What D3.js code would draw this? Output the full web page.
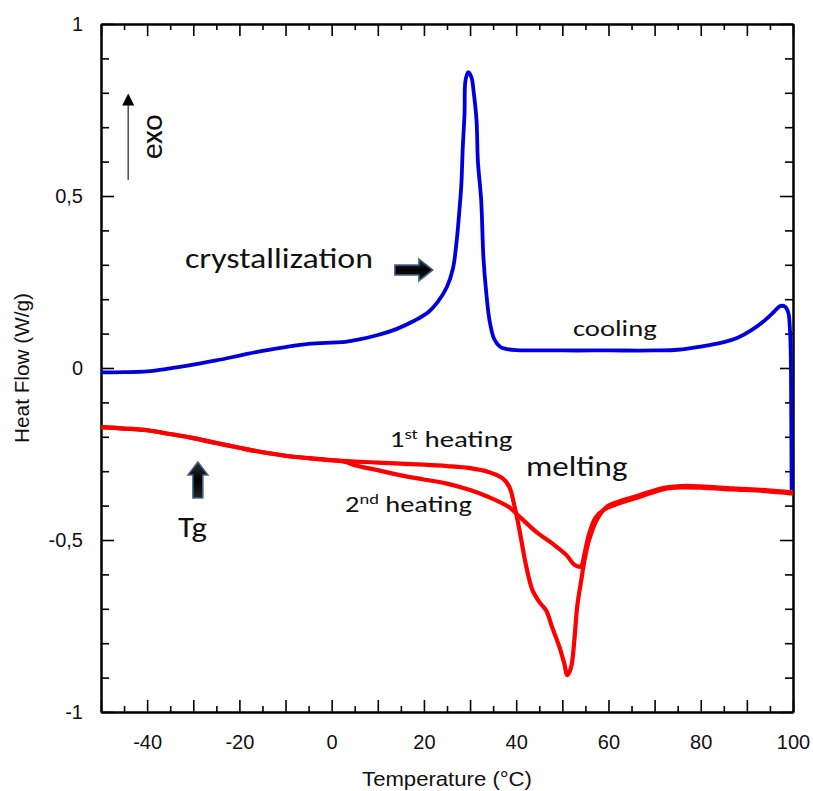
<!DOCTYPE html>
<html lang="en">
<head>
  <meta charset="UTF-8">
  <title>DSC curves</title>
  <script src="https://cdn.jsdelivr.net/npm/d3@7"></script>
  <style>
    body { margin: 0; background: #fff; }
    text { fill: #111; }
  </style>
</head>
<body>
<svg></svg>
<script>
  // cooling run (blue), temperature in °C / heat flow in W/g
  const coolT  = [-50, -45, -40, -35, -30, -25, -20, -15, -10, -5, 0, 3, 6, 10, 14, 18, 21, 23, 25, 26.3, 27.1, 27.7, 28.1, 28.4, 28.8, 29.0, 29.6, 30.3, 30.8, 31.4, 31.7, 32.4, 32.9, 33.5, 34.2, 35.2, 36.5, 38, 40, 50, 60, 70, 75, 80, 85, 88, 91, 94, 96, 97.2, 98.3, 99, 99.3, 99.5, 99.6, 99.7]
  const coolHF = [-0.013, -0.012, -0.010, -0.001, 0.010, 0.022, 0.036, 0.050, 0.061, 0.070, 0.074, 0.076, 0.083, 0.096, 0.113, 0.138, 0.163, 0.192, 0.236, 0.29, 0.37, 0.46, 0.53, 0.635, 0.74, 0.835, 0.86, 0.845, 0.80, 0.72, 0.60, 0.49, 0.32, 0.22, 0.14, 0.085, 0.062, 0.055, 0.052, 0.051, 0.051, 0.051, 0.053, 0.062, 0.075, 0.088, 0.11, 0.14, 0.165, 0.18, 0.178, 0.16, 0.12, 0.05, -0.1, -0.355]

  // 1st heating (red)
  const heat1T  = [-50, -45, -40, -35, -30, -25, -20, -15, -10, -5, 0, 5, 10, 15, 20, 25, 30, 34, 37, 38.5, 39.6, 40.3, 41.1, 42.2, 43.5, 45, 46.5, 47.8, 49.4, 50.4, 51.1, 51.9, 52.6, 53.2, 54.1, 54.8, 55.8, 57.4, 59.5, 62.3, 66.7, 72, 76, 80, 87, 94, 100]
  const heat1HF = [-0.172, -0.176, -0.181, -0.192, -0.204, -0.218, -0.232, -0.245, -0.255, -0.262, -0.268, -0.272, -0.275, -0.278, -0.281, -0.285, -0.291, -0.302, -0.32, -0.345, -0.40, -0.443, -0.50, -0.578, -0.645, -0.68, -0.705, -0.754, -0.812, -0.858, -0.893, -0.87, -0.792, -0.696, -0.617, -0.559, -0.50, -0.443, -0.405, -0.388, -0.37, -0.348, -0.343, -0.344, -0.35, -0.355, -0.362]

  // 2nd heating (red)
  const heat2T  = [-50, -45, -40, -35, -30, -25, -20, -15, -10, -5, 0, 3, 5, 10, 15, 20, 25, 30, 34, 38.5, 40.7, 44.4, 47.8, 50.9, 52.6, 54, 54.8, 55.8, 57.2, 59, 62, 66.7, 72, 76, 80, 87, 94, 100]
  const heat2HF = [-0.172, -0.176, -0.181, -0.192, -0.204, -0.218, -0.232, -0.245, -0.255, -0.262, -0.268, -0.273, -0.283, -0.297, -0.312, -0.324, -0.336, -0.355, -0.375, -0.405, -0.432, -0.477, -0.51, -0.544, -0.572, -0.577, -0.54, -0.482, -0.435, -0.412, -0.395, -0.375, -0.352, -0.347, -0.348, -0.353, -0.358, -0.365]

  const xLabels = [-40, -20, 0, 20, 40, 60, 80, 100]
  const yLabels = ['-1', '-0,5', '0', '0,5', '1']

  const width = 813, height = 791
  const plotLeft = 101, plotRight = 793, plotTop = 24, plotBottom = 712

  const svg = d3.select('svg')
      .attr('width', width)
      .attr('height', height)
      .attr('viewBox', [0, 0, width, height])

  const x = d3.scaleLinear().domain([-50, 100]).range([plotLeft, plotRight])
  const y = d3.scaleLinear().domain([-1, 1]).range([plotBottom, plotTop])

  const xMajor = d3.range(-50, 101, 10)
  const xMinor = d3.range(-45, 100, 10)
  const yMajor = yLabels.map(s => +s.replace(',', '.'))
  const yMinor = d3.range(-0.9, 1, 0.1).filter(v => Math.abs(v * 2 - Math.round(v * 2)) > 1e-6)

  const labelFont = '"Liberation Sans", Arial, sans-serif'
  const noteFont = 'Carlito, Calibri, Lato, sans-serif'

  // the original is a little stretched sideways; squeeze/stretch text to its width
  function fitWidth(sel, target, before) {
    const w = sel.node().getBBox().width
    const sx = target / w
    sel.attr('transform', `${before} scale(${sx},1)`)
  }

  function styleAxis(g) {
    g.select('.domain').attr('stroke', '#000').attr('stroke-width', 2)
    g.selectAll('.tick line').attr('stroke', '#000').attr('stroke-width', 1.6)
    g.selectAll('.tick text').attr('font-family', labelFont).attr('font-size', 20).attr('fill', '#111')
  }

  // bottom axis, ticks pointing inward
  svg.append('g')
      .attr('transform', `translate(0,${plotBottom})`)
      .call(d3.axisBottom(x).tickValues(xMinor).tickSize(-6).tickSizeOuter(0).tickFormat(''))
      .call(styleAxis)
  svg.append('g')
      .attr('transform', `translate(0,${plotBottom})`)
      .call(d3.axisBottom(x).tickValues(xMajor).tickSize(-12).tickSizeOuter(0).tickPadding(23)
          .tickFormat(d => xLabels.includes(d) ? d : ''))
      .call(styleAxis)

  // top axis
  svg.append('g')
      .attr('transform', `translate(0,${plotTop})`)
      .call(d3.axisTop(x).tickValues(xMinor).tickSize(-6).tickSizeOuter(0).tickFormat(''))
      .call(styleAxis)
  svg.append('g')
      .attr('transform', `translate(0,${plotTop})`)
      .call(d3.axisTop(x).tickValues(xMajor).tickSize(-12).tickSizeOuter(0).tickFormat(''))
      .call(styleAxis)

  // left axis
  svg.append('g')
      .attr('transform', `translate(${plotLeft},0)`)
      .call(d3.axisLeft(y).tickValues(yMinor).tickSize(-8).tickSizeOuter(0).tickFormat(''))
      .call(styleAxis)
  svg.append('g')
      .attr('transform', `translate(${plotLeft},0)`)
      .call(d3.axisLeft(y).tickValues(yMajor).tickSize(-13).tickSizeOuter(0).tickPadding(18)
          .tickFormat((d, i) => yLabels[i]))
      .call(styleAxis)

  // right axis
  svg.append('g')
      .attr('transform', `translate(${plotRight},0)`)
      .call(d3.axisRight(y).tickValues(yMinor).tickSize(-8).tickSizeOuter(0).tickFormat(''))
      .call(styleAxis)
  svg.append('g')
      .attr('transform', `translate(${plotRight},0)`)
      .call(d3.axisRight(y).tickValues(yMajor).tickSize(-13).tickSizeOuter(0).tickFormat(''))
      .call(styleAxis)

  // axis titles
  const xTitle = svg.append('text')
      .attr('text-anchor', 'middle')
      .attr('font-family', labelFont)
      .attr('font-size', 20)
      .text('Temperature (°C)')
  fitWidth(xTitle, 170, `translate(447,786)`)

  const yTitle = svg.append('text')
      .attr('text-anchor', 'middle')
      .attr('font-family', labelFont)
      .attr('font-size', 20)
      .text('Heat Flow (W/g)')
  fitWidth(yTitle, 150, `translate(29,${y(0)}) rotate(-90)`)

  // curves
  const line = d3.line()
      .x(d => x(d[0]))
      .y(d => y(d[1]))
      .curve(d3.curveCatmullRom.alpha(0.5))

  const heat1 = d3.zip(heat1T, heat1HF)
  const heat2 = d3.zip(heat2T, heat2HF)
  const cool = d3.zip(coolT, coolHF)

  svg.append('path')
      .attr('fill', 'none')
      .attr('stroke', '#ff0000')
      .attr('stroke-width', 4.2)
      .attr('stroke-linejoin', 'round')
      .attr('d', line(heat2))

  svg.append('path')
      .attr('fill', 'none')
      .attr('stroke', '#ff0000')
      .attr('stroke-width', 4.2)
      .attr('stroke-linejoin', 'round')
      .attr('d', line(heat1))

  svg.append('path')
      .attr('fill', 'none')
      .attr('stroke', '#0000dd')
      .attr('stroke-width', 3.8)
      .attr('stroke-linejoin', 'round')
      .attr('d', line(cool))

  // annotations, placed in data units, fitted to the widths seen in the figure
  const note = (tx, ty, size, w) => {
    const t = svg.append('text')
        .attr('font-family', noteFont)
        .attr('font-size', size)
    return {t, fit: () => fitWidth(t, w, `translate(${x(tx)},${y(ty)})`)}
  }

  let n = note(-31.8, 0.291, 28, 188); n.t.text('crystallization'); n.fit()
  n = note(52.3, 0.093, 23, 84); n.t.text('cooling'); n.fit()
  n = note(42.1, -0.314, 29, 102); n.t.text('melting'); n.fit()
  n = note(-33.3, -0.491, 28, 29); n.t.text('Tg'); n.fit()

  n = note(12.6, -0.23, 23, 123)
  n.t.append('tspan').text('1')
  n.t.append('tspan').attr('font-size', 15).attr('dy', -8).text('st')
  n.t.append('tspan').attr('dy', 8).text(' heating')
  n.fit()

  n = note(2.9, -0.419, 23, 127)
  n.t.append('tspan').text('2')
  n.t.append('tspan').attr('font-size', 15).attr('dy', -8).text('nd')
  n.t.append('tspan').attr('dy', 8).text(' heating')
  n.fit()

  const exo = svg.append('text')
      .attr('text-anchor', 'middle')
      .attr('font-family', noteFont)
      .attr('font-size', 30)
      .text('exo')
  fitWidth(exo, 45, `translate(${x(-38.9) + 10},${y(0.672)}) rotate(-90)`)

  // thin "exo" arrow
  const defs = svg.append('defs')
  defs.append('marker')
      .attr('id', 'tip')
      .attr('viewBox', '0 0 10 10')
      .attr('refX', 2).attr('refY', 5)
      .attr('markerUnits', 'userSpaceOnUse')
      .attr('markerWidth', 13).attr('markerHeight', 12)
      .attr('orient', 'auto')
    .append('path')
      .attr('d', 'M0,0L10,5L0,10z')
      .attr('fill', '#000')

  svg.append('line')
      .attr('x1', x(-44.1)).attr('y1', y(0.547))
      .attr('x2', x(-44.1)).attr('y2', y(0.77))
      .attr('stroke', '#555')
      .attr('stroke-width', 1.6)
      .attr('marker-end', 'url(#tip)')

  // block arrows
  const grad = defs.append('linearGradient')
      .attr('id', 'blk').attr('x1', 0).attr('y1', 0).attr('x2', 0).attr('y2', 1)
  grad.append('stop').attr('offset', 0).attr('stop-color', '#333')
  grad.append('stop').attr('offset', 0.5).attr('stop-color', '#000')
  grad.append('stop').attr('offset', 1).attr('stop-color', '#222')

  // right-pointing: shaft 24 long, 10 high; head 14 long, 22 high
  const rightArrow = [[0, -5], [24, -5], [24, -11], [38, 0], [24, 11], [24, 5], [0, 5]]
  svg.append('polygon')
      .attr('transform', `translate(${x(13.7)},${y(0.285)})`)
      .attr('points', rightArrow.join(' '))
      .attr('fill', 'url(#blk)')
      .attr('stroke', '#44658f')
      .attr('stroke-width', 1.5)

  // up-pointing Tg arrow
  const upArrow = [[-5, 36], [-5, 13], [-10, 13], [0, 0], [10, 13], [5, 13], [5, 36]]
  svg.append('polygon')
      .attr('transform', `translate(${x(-29)},${y(-0.273)})`)
      .attr('points', upArrow.join(' '))
      .attr('fill', 'url(#blk)')
      .attr('stroke', '#44658f')
      .attr('stroke-width', 1.5)
</script>
</body>
</html>
